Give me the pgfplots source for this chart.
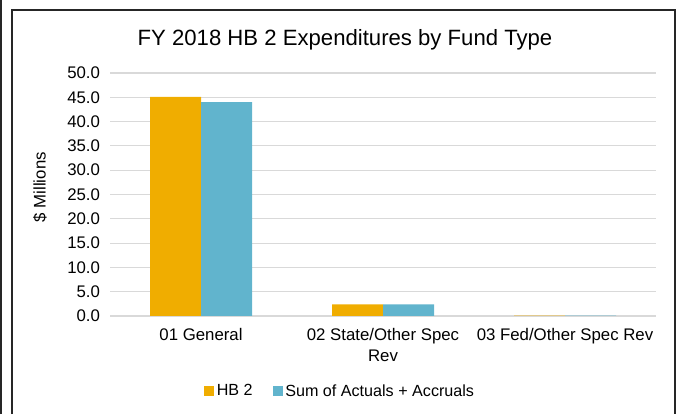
\documentclass[border=0pt]{standalone}
\usepackage{fontspec}
\setmainfont{Liberation Sans}
\usepackage{pgfplots}
\pgfplotsset{compat=1.18}
\definecolor{hbo}{HTML}{F0AD00}
\definecolor{sumb}{HTML}{61B4CD}
\definecolor{gridc}{HTML}{D9D9D9}
\begin{document}
\begin{tikzpicture}[x=0.75pt,y=0.75pt]
\useasboundingbox (0,0) rectangle (678,414);
\draw[line width=1pt, black!85] (1,0) -- (1,414);
\draw[line width=1.1pt, black!85] (12,0) -- (12,404) -- (675,404) -- (675,0);
\node[font=\fontsize{16.6}{19}\selectfont] at (345,374) {FY 2018 HB 2 Expenditures by Fund Type};
\begin{axis}[
  at={(82.5pt,73.5pt)}, anchor=south west,
  scale only axis, width=409.5pt, height=182.25pt,
  ymin=0, ymax=50, xmin=-0.5, xmax=2.5,
  ybar=0pt, bar width=38.25pt,
  ytick={0,5,...,50},
  xtick={0,1,2},
  xticklabels={01 General, {02 State/Other Spec\\Rev}, 03 Fed/Other Spec Rev},
  xticklabel style={align=center, yshift=-6pt},
  major tick length=0pt,
  ymajorgrids, grid style={gridc, line width=0.8pt},
  axis x line*=bottom, axis y line*=left,
  x axis line style={gridc, line width=0.8pt, -},
  y axis line style={draw=none},
  tick label style={font=\fontsize{12.6}{15.5}\selectfont},
  yticklabel style={xshift=-4pt, /pgf/number format/.cd, fixed, fixed zerofill, precision=1, assume math mode=true},
  ylabel={\$ Millions},
  every axis y label/.style={at={(axis description cs:-0.128,0.53)}, rotate=90, anchor=center, font=\fontsize{12.6}{15}\selectfont},
  legend columns=2,
  legend style={at={(axis description cs:0.422,-0.31)}, anchor=center, draw=none, font=\fontsize{12.1}{15}\selectfont, /tikz/every even column/.append style={column sep=13pt}},
  legend image code/.code={\fill[#1] (0pt,-3.75pt) rectangle (7.5pt,3.75pt);},
]
\addplot[fill=hbo, draw=none] coordinates {(0,45.1) (1,2.4) (2,0.1)};
\addplot[fill=sumb, draw=none] coordinates {(0,44.0) (1,2.4) (2,0.08)};
\legend{HB 2, Sum of Actuals + Accruals}
\end{axis}
\end{tikzpicture}
\end{document}
